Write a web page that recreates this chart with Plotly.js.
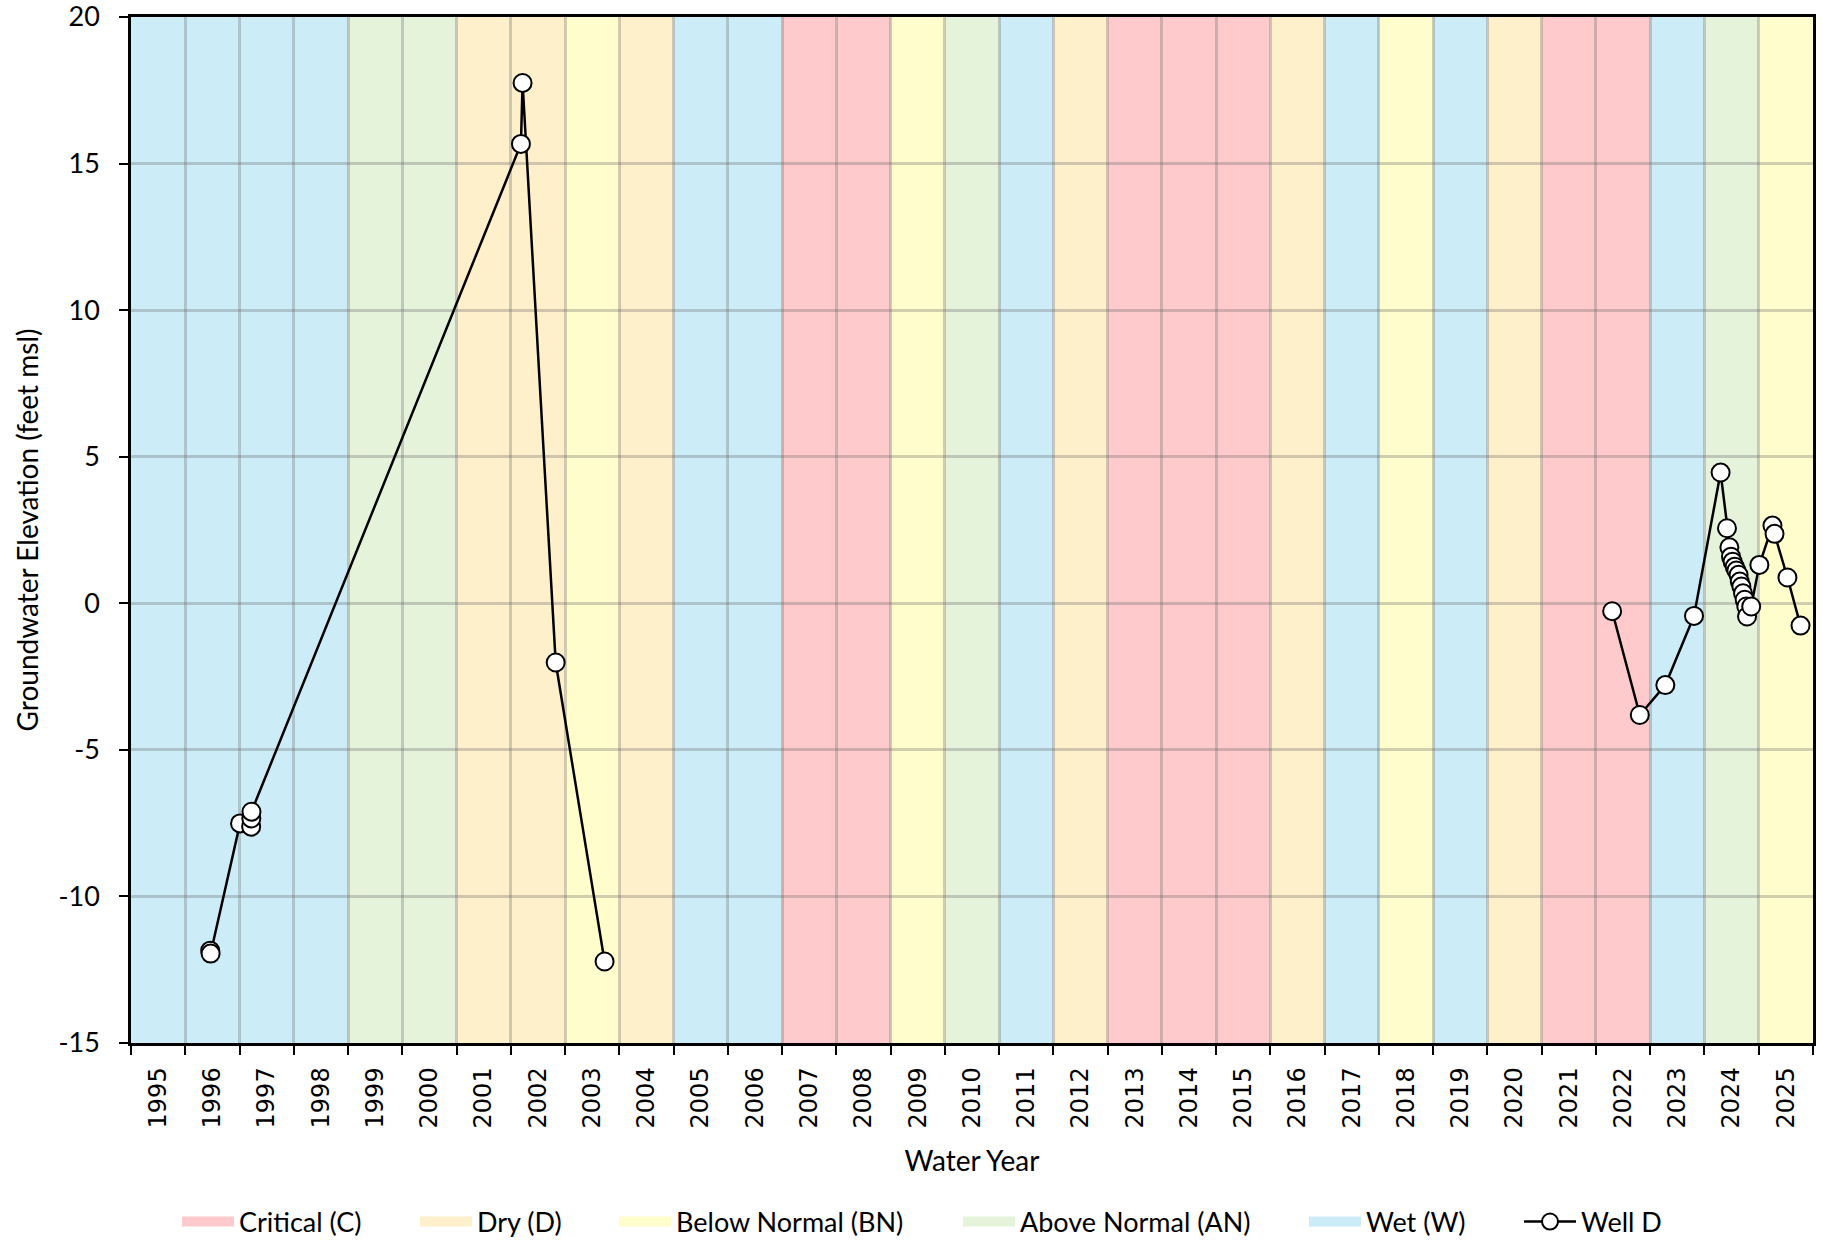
<!DOCTYPE html>
<html>
<head>
<meta charset="utf-8">
<script src="https://cdn.plot.ly/plotly-3.0.1.min.js"></script>
<style>
  html, body { margin: 0; padding: 0; background: #ffffff; }
  #chart { width: 1823px; height: 1240px; }
</style>
</head>
<body>
<div id="chart"></div>
<script>
// ---------- DATA ----------
const waterYears = [1995, 1996, 1997, 1998, 1999, 2000, 2001, 2002, 2003, 2004,
                    2005, 2006, 2007, 2008, 2009, 2010, 2011, 2012, 2013, 2014,
                    2015, 2016, 2017, 2018, 2019, 2020, 2021, 2022, 2023, 2024, 2025];
const yearTypes = ['W', 'W', 'W', 'W', 'AN', 'AN', 'D', 'D', 'BN', 'D',
                   'W', 'W', 'C', 'C', 'BN', 'AN', 'W', 'D', 'C', 'C',
                   'C', 'D', 'W', 'BN', 'W', 'D', 'C', 'C', 'W', 'AN', 'BN'];
const typeCodes = ['C', 'D', 'BN', 'AN', 'W'];
const typeNames = ['Critical (C)', 'Dry (D)', 'Below Normal (BN)', 'Above Normal (AN)', 'Wet (W)'];
const typeColors = ['#FFCACB', '#FFF0CC', '#FFFDCC', '#E6F3DB', '#CCECF8'];

// Well D measurements, first period
const wellDates1 = ['1996-03-17', '1996-03-20', '1996-10-04', '1996-12-18', '1996-12-19', '1996-12-20',
                    '2001-12-08', '2001-12-19', '2002-07-30', '2003-06-24'];
const wellElev1 = [-11.85, -11.95, -7.51, -7.62, -7.34, -7.11,
                   15.67, 17.75, -2.02, -12.22];
// Well D measurements, second period
const wellDates2 = ['2022-01-18', '2022-07-23', '2023-01-11', '2023-07-23', '2024-01-18',
                    '2024-03-01', '2024-03-17', '2024-03-28', '2024-04-08', '2024-04-22',
                    '2024-05-03', '2024-05-18', '2024-05-26', '2024-06-06', '2024-06-17',
                    '2024-06-28', '2024-07-09', '2024-07-14', '2024-08-11', '2024-10-05',
                    '2025-01-01', '2025-01-15', '2025-04-12', '2025-07-09'];
const wellElev2 = [-0.27, -3.81, -2.79, -0.43, 4.46,
                   2.56, 1.91, 1.59, 1.42, 1.25,
                   1.12, 0.97, 0.74, 0.57, 0.34,
                   0.12, -0.11, -0.45, -0.11, 1.31,
                   2.65, 2.37, 0.88, -0.76];

const yTickVals = [-15, -10, -5, 0, 5, 10, 15, 20];
const yTickText = ['-15', '-10', '-5', '0', '5', '10', '15', '20'];

// ---------- BUILD ----------
const textFont = 'Lato, "Open Sans", sans-serif';
const tickFontX = '"DejaVu Sans", Verdana, sans-serif';
const W = 1823, H = 1240;

// legend entry left edges (px, page coords) for the six legend items
const legendLeft = [177, 415, 614, 958, 1304, 1519];
const legendIds = ['legend', 'legend2', 'legend3', 'legend4', 'legend5', 'legend6'];

const shapes = waterYears.map((wy, i) => ({
  type: 'rect', xref: 'x', yref: 'paper',
  x0: (wy - 1) + '-10-01', x1: wy + '-10-01', y0: 0, y1: 1,
  fillcolor: typeColors[typeCodes.indexOf(yearTypes[i])],
  line: { width: 0 }, layer: 'below'
}));

const traces = typeCodes.map((code, i) => ({
  type: 'scatter', mode: 'lines', name: typeNames[i],
  x: [null], y: [null],
  line: { color: typeColors[i], width: 16 },
  legend: legendIds[i],
  hoverinfo: 'skip'
}));

traces.push({
  type: 'scatter', mode: 'lines+markers', name: 'Well D',
  x: wellDates1.concat([null], wellDates2),
  y: wellElev1.concat([null], wellElev2),
  connectgaps: false,
  legend: legendIds[5],
  line: { color: '#000000', width: 2.5 },
  marker: { symbol: 'circle', size: 18, color: '#ffffff', line: { color: '#000000', width: 2 } }
});

const layout = {
  width: W, height: H,
  margin: { l: 131, r: 10, t: 17, b: 197, pad: 0 },
  paper_bgcolor: '#ffffff', plot_bgcolor: '#ffffff',
  font: { family: textFont, size: 27, color: '#000000' },
  shapes: shapes,
  showlegend: true,
  xaxis: {
    type: 'date',
    range: [(waterYears[0] - 1) + '-10-01', waterYears[waterYears.length - 1] + '-10-01'],
    tickmode: 'array',
    tickvals: waterYears.map(wy => wy + '-04-01'),
    ticktext: waterYears.map(String),
    tickangle: -90,
    ticks: '', showgrid: false,
    ticklabelstandoff: 12,
    ticklabeloverflow: 'allow',
    tickfont: { family: tickFontX, size: 24, color: '#000000' },
    minor: {
      tickmode: 'linear', tick0: (waterYears[0] - 1) + '-10-01', dtick: 'M12',
      ticks: 'outside', ticklen: 9, tickwidth: 2, tickcolor: '#000000',
      showgrid: true, gridcolor: 'rgba(100,100,100,0.3)', gridwidth: 2.5
    },
    showline: true, linecolor: '#000000', linewidth: 2.5, mirror: true,
    zeroline: false,
    title: { text: 'Water Year', font: { family: textFont, size: 28, color: '#000000' }, standoff: 24 }
  },
  yaxis: {
    range: [-15, 20],
    tickmode: 'array', tickvals: yTickVals, ticktext: yTickText,
    ticks: 'outside', ticklen: 9, tickwidth: 2, tickcolor: '#000000',
    ticklabelstandoff: 14,
    ticklabeloverflow: 'allow',
    tickfont: { family: textFont, size: 27, color: '#000000' },
    showgrid: true, gridcolor: 'rgba(100,100,100,0.3)', gridwidth: 2.5,
    showline: true, linecolor: '#000000', linewidth: 2.5, mirror: true,
    zeroline: false,
    title: { text: 'Groundwater Elevation (feet msl)', font: { family: textFont, size: 28, color: '#000000' }, standoff: 12 }
  }
};

legendIds.forEach((id, i) => {
  layout[id] = {
    orientation: 'h', xref: 'container', yref: 'container',
    x: legendLeft[i] / W, xanchor: 'left', y: 1 - 1222 / H, yanchor: 'middle',
    font: { family: textFont, size: 27, color: '#000000' },
    itemwidth: 52, bgcolor: 'rgba(0,0,0,0)', borderwidth: 0
  };
});

Plotly.newPlot('chart', traces, layout, { displayModeBar: false, responsive: false });
</script>
</body>
</html>
